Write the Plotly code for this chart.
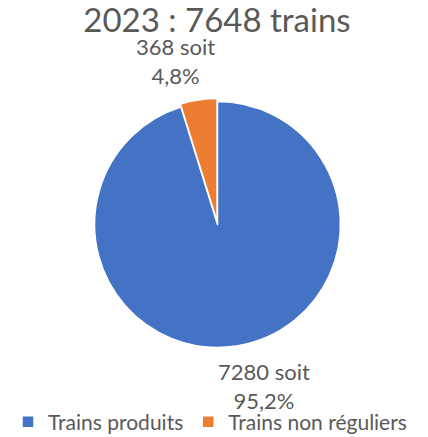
import plotly.graph_objects as go

categories = ["Trains produits", "Trains non réguliers"]
values = [7280, 368]
colors = ["#4472C4", "#ED7D31"]
year = "2023"

total = sum(values)
title_text = f"{year} : {total} trains"

def fmt_pct(v):
    return f"{v / total * 100:.1f}".replace(".", ",") + "%"

labels_text = [f"{v} soit<br>{fmt_pct(v)}" for v in values]

FONT = "Lato"
TXT = "#595959"

fig = go.Figure()
fig.add_trace(go.Pie(
    labels=categories,
    values=values,
    marker=dict(colors=colors, line=dict(color="white", width=1.5)),
    sort=False,
    direction="clockwise",
    rotation=0,
    pull=[0, 0.025],
    textinfo="none",
    hoverinfo="label+value+percent",
    domain=dict(x=[0.2138, 0.8026], y=[0.198, 0.7746]),
))

# data labels
label_pos = [(264, 386), (175, 61)]
for txt, (px, py) in zip(labels_text, label_pos):
    fig.add_annotation(
        text=txt, x=px / 428, y=1 - py / 437, xref="paper", yref="paper",
        showarrow=False, xanchor="center", yanchor="middle",
        font=dict(family=FONT, size=22, color=TXT), align="center",
    )

fig.update_layout(
    width=428, height=437,
    margin=dict(l=0, r=0, t=0, b=0, autoexpand=False),
    paper_bgcolor="white", plot_bgcolor="white",
    title=dict(text=title_text, x=217 / 428, xanchor="center", y=1 - 20 / 437, yanchor="middle",
               font=dict(family=FONT, size=33, color=TXT)),
    showlegend=True,
    legend=dict(orientation="h", x=8 / 428, xanchor="left", y=1 - 422 / 437, yanchor="middle",
                font=dict(family=FONT, size=21, color=TXT), itemwidth=30,
                bgcolor="rgba(0,0,0,0)"),
)

fig.write_html("out.html", config={"displayModeBar": False},
               post_script="document.body.style.margin='0';document.body.style.overflow='hidden';")
